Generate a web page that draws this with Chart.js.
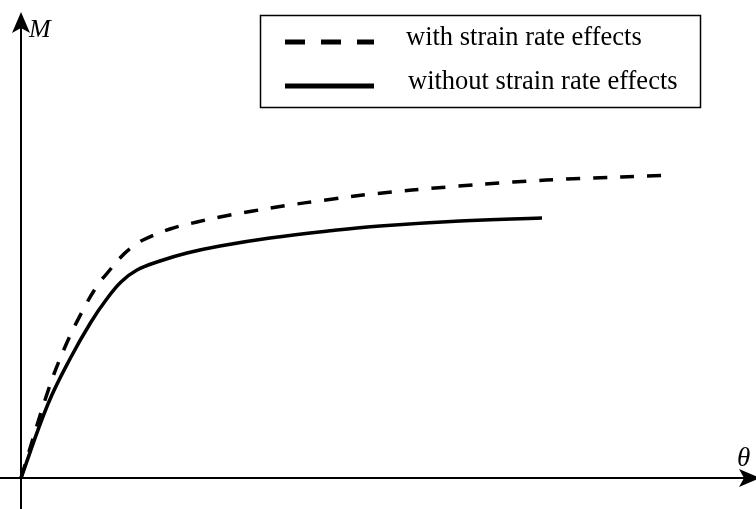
<!DOCTYPE html>
<html>
<head>
<meta charset="utf-8">
<script src="https://cdn.jsdelivr.net/npm/chart.js@4.4.1/dist/chart.umd.min.js"></script>
<style>
  html, body { margin: 0; padding: 0; background: #fff; }
  #wrap { width: 756px; height: 509px; }
</style>
</head>
<body>
<div id="wrap"><canvas id="mtChart" width="756" height="509"></canvas></div>
<script>
// curve points (theta, M) in arbitrary units
const withRateTheta = [0, 2.7, 4.4, 6.1, 7.6, 8.8, 9.9, 11.0, 12.2, 14.9, 17.6, 19.9, 23.2, 26.2, 31.2, 35.6, 42.6, 49.2, 55.9, 64.1];
const withRateM     = [0, 8.7, 13.1, 16.6, 19.2, 20.7, 22.0, 23.0, 23.8, 24.9, 25.6, 26.1, 26.7, 27.2, 27.9, 28.45, 29.1, 29.6, 29.95, 30.25];
const noRateTheta = [0, 2.7, 5.0, 7.0, 8.5, 10.0, 11.6, 13.9, 16.6, 19.9, 24.9, 31.2, 35.9, 43.9, 52.1];
const noRateM     = [0, 7.4, 12.1, 15.6, 17.8, 19.6, 20.8, 21.7, 22.5, 23.2, 24.0, 24.75, 25.2, 25.7, 26.0];
const seriesLabels = ['with strain rate effects', 'without strain rate effects'];
const axisLabels = ['M', '\u03b8'];

const toPoints = (xs, ys) => xs.map((x, i) => ({ x: x, y: ys[i] }));

// axes with arrow heads, labels and the boxed legend
const sketchPlugin = {
  id: 'sketch',
  afterDatasetsDraw(chart) {
    const c = chart.ctx;
    const xs = chart.scales.x, ys = chart.scales.y;
    const ox = xs.getPixelForValue(0);
    const oy = ys.getPixelForValue(0);
    c.save();
    c.strokeStyle = '#000';
    c.fillStyle = '#000';
    c.lineWidth = 2;

    // y axis
    const topY = ys.getPixelForValue(46.6);
    c.beginPath();
    c.moveTo(ox, chart.height);
    c.lineTo(ox, topY + 10);
    c.stroke();
    c.beginPath();
    c.moveTo(ox, topY);
    c.lineTo(ox + 9, topY + 21);
    c.lineTo(ox, topY + 16);
    c.lineTo(ox - 9, topY + 21);
    c.closePath();
    c.fill();

    // x axis
    const tipX = xs.getPixelForValue(73.9);
    c.beginPath();
    c.moveTo(0, oy);
    c.lineTo(tipX - 10, oy);
    c.stroke();
    c.beginPath();
    c.moveTo(tipX, oy);
    c.lineTo(tipX - 21, oy - 9);
    c.lineTo(tipX - 16, oy);
    c.lineTo(tipX - 21, oy + 9);
    c.closePath();
    c.fill();

    // axis labels
    c.textBaseline = 'alphabetic';
    c.textAlign = 'left';
    c.font = 'italic 26px "Liberation Serif"';
    c.fillText(axisLabels[0], ox + 8, topY + 25);
    c.font = 'italic 27px "Liberation Serif"';
    c.fillText(axisLabels[1], 737, oy - 12);

    // legend box
    c.lineWidth = 1.5;
    c.strokeRect(260.5, 15.5, 440, 92);
    c.font = '26.5px "Liberation Serif"';
    c.textBaseline = 'middle';
    const rows = [41, 85];
    chart.data.datasets.forEach((ds, i) => {
      c.lineWidth = 5;
      c.setLineDash(i === 0 ? [20, 16] : []);
      c.beginPath();
      c.moveTo(285, rows[i] + 1);
      c.lineTo(374, rows[i] + 1);
      c.stroke();
      c.setLineDash([]);
      c.fillText(ds.label, i === 0 ? 406 : 408, rows[i] - 3);
    });
    c.restore();
  }
};

new Chart(document.getElementById('mtChart'), {
  type: 'scatter',
  data: {
    datasets: [
      {
        label: seriesLabels[0],
        data: toPoints(withRateTheta, withRateM),
        showLine: true,
        borderColor: '#000',
        borderWidth: 3.5,
        borderDash: [14, 13],
        pointRadius: 0,
        tension: 0.4,
        clip: false
      },
      {
        label: seriesLabels[1],
        data: toPoints(noRateTheta, noRateM),
        showLine: true,
        borderColor: '#000',
        borderWidth: 3.5,
        pointRadius: 0,
        tension: 0.4,
        clip: false
      }
    ]
  },
  options: {
    responsive: false,
    animation: false,
    layout: { padding: 0 },
    plugins: {
      legend: { display: false },
      tooltip: { enabled: false }
    },
    scales: {
      x: { type: 'linear', min: -2.1, max: 73.5, display: false },
      y: { type: 'linear', min: -3.1, max: 47.8, display: false }
    }
  },
  plugins: [sketchPlugin]
});
</script>
</body>
</html>
